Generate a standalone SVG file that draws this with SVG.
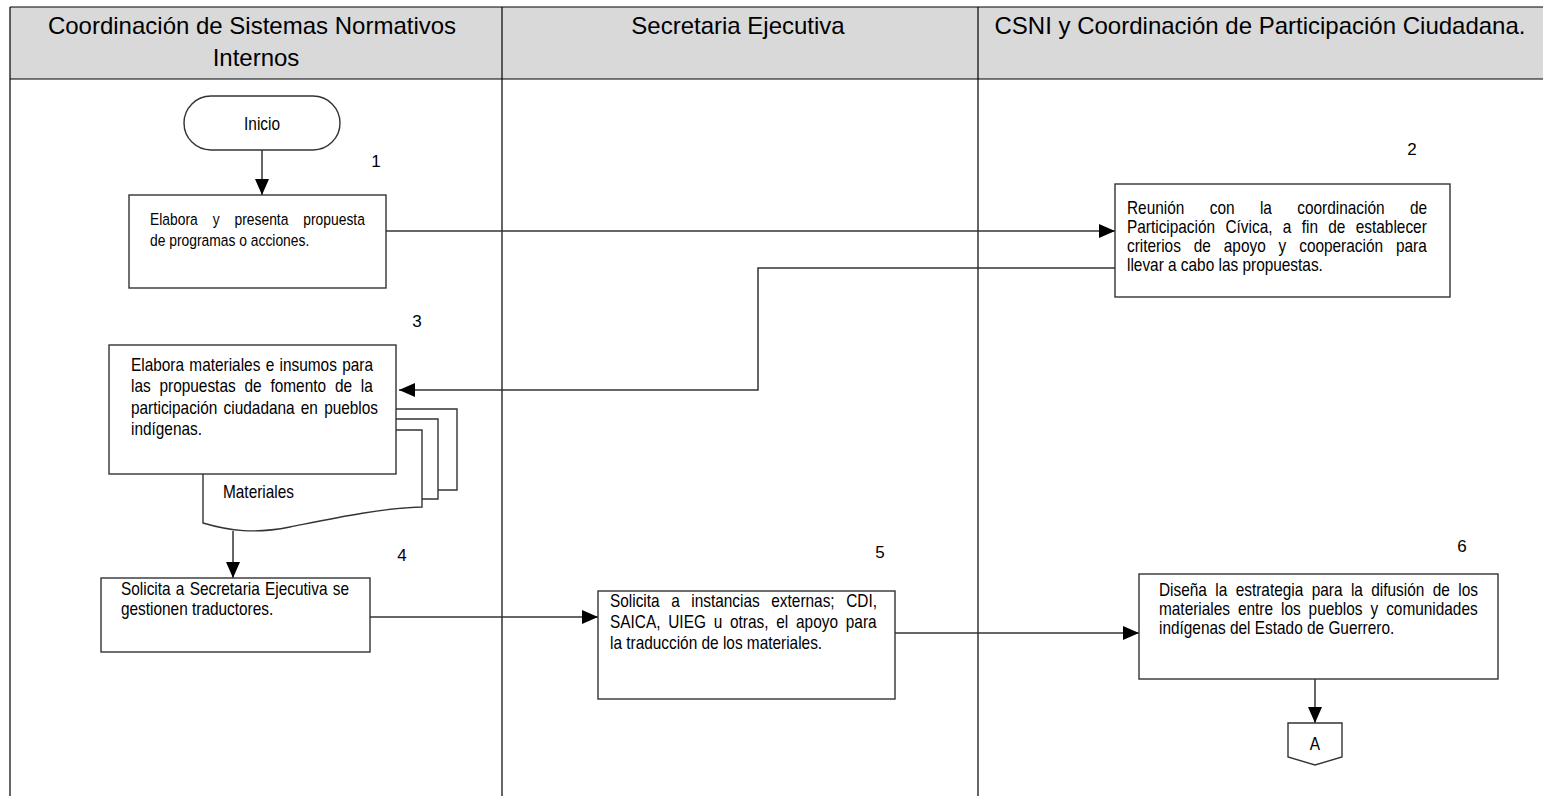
<svg xmlns="http://www.w3.org/2000/svg" width="1543" height="796" viewBox="0 0 1543 796">
<style>
  .lane { stroke: #000; stroke-width: 1.2; fill: none; }
  .hdr { fill: #d9d9d9; stroke: none; }
  .htxt { font-family: "Liberation Sans", Arial, sans-serif; font-size: 24px; fill: #000; text-anchor: middle; }
  .box { fill: #fff; stroke: #333; stroke-width: 1.4; }
  .txt { font-family: "Liberation Sans", Arial, sans-serif; font-size: 17.5px; fill: #000; }
  .t16 { font-size: 16.5px; }
  .mid { text-anchor: middle; }
  .num { font-family: "Liberation Sans", Arial, sans-serif; font-size: 17px; fill: #000; text-anchor: middle; }
  .conn { fill: none; stroke: #333; stroke-width: 1.5; }
  .arr { marker-end: url(#ah); }
</style>
<defs>
  <marker id="ah" markerUnits="userSpaceOnUse" markerWidth="16" markerHeight="14" refX="16" refY="7" orient="auto">
    <path d="M0,0 L16,7 L0,14 Z" fill="#000"/>
  </marker>
</defs>
<rect width="1543" height="796" fill="#fff"/>
<g id="lanes">
  <rect class="hdr" x="10" y="7" width="1533" height="72"/>
  <line class="lane" x1="10" y1="7" x2="1543" y2="7"/>
  <line class="lane" x1="10" y1="79" x2="1543" y2="79"/>
  <line class="lane" x1="10" y1="7" x2="10" y2="796"/>
  <line class="lane" x1="502" y1="7" x2="502" y2="796"/>
  <line class="lane" x1="978" y1="7" x2="978" y2="796"/>
  <text class="htxt" x="252" y="34">Coordinación de Sistemas Normativos</text>
  <text class="htxt" x="256" y="66">Internos</text>
  <text class="htxt" x="738" y="34">Secretaria Ejecutiva</text>
  <text class="htxt" x="1260" y="34">CSNI y Coordinación de Participación Ciudadana.</text>
</g>
<g id="connectors">
  <line class="conn arr" x1="262" y1="150" x2="262" y2="195"/>
  <line class="conn arr" x1="386" y1="231" x2="1115" y2="231"/>
  <polyline class="conn arr" points="1115,268 758,268 758,390 399,390"/>
  <line class="conn arr" x1="233" y1="531" x2="233" y2="578"/>
  <line class="conn arr" x1="370" y1="617" x2="598" y2="617"/>
  <line class="conn arr" x1="895" y1="633" x2="1139" y2="633"/>
  <line class="conn arr" x1="1315" y1="679" x2="1315" y2="723"/>
</g>
<g id="inicio">
  <rect class="box" x="184" y="96" width="156" height="54" rx="27" ry="27"/>
  <text class="txt mid" transform="translate(262 0) scale(0.88 1)" x="0" y="130">Inicio</text>
</g>
<g id="step1">
  <text class="num" x="376" y="167">1</text>
  <rect class="box" x="129" y="195" width="257" height="93"/>
  <g transform="translate(150 0) scale(0.84 1)">
    <text class="txt t16" x="0" y="225" word-spacing="13.2">Elabora y presenta propuesta</text>
    <text class="txt t16" x="0" y="246">de programas o acciones.</text>
  </g>
</g>
<g id="step2">
  <text class="num" x="1412" y="155">2</text>
  <rect class="box" x="1115" y="184" width="335" height="113"/>
  <g transform="translate(1127 0) scale(0.88 1)">
    <text class="txt" x="0" y="214" word-spacing="24">Reunión con la coordinación de</text>
    <text class="txt" x="0" y="233" word-spacing="6.9">Participación Cívica, a fin de establecer</text>
    <text class="txt" x="0" y="252" word-spacing="9.8">criterios de apoyo y cooperación para</text>
    <text class="txt" x="0" y="271">llevar a cabo las propuestas.</text>
  </g>
</g>
<g id="step3">
  <text class="num" x="417" y="327">3</text>
  <path class="box" d="M250,409 H457 V490 H250 Z"/>
  <path class="box" d="M230,419 H438 V499 H230 Z"/>
  <path class="box" d="M203,430 H422 V507 C380,508 330,519 290,527 C255,534 230,531 203,523 Z"/>
  <text class="txt" transform="translate(223 0) scale(0.88 1)" x="0" y="498">Materiales</text>
  <rect class="box" x="109" y="345" width="287" height="129"/>
  <g transform="translate(131 0) scale(0.88 1)">
    <text class="txt" x="0" y="371" word-spacing="1.2">Elabora materiales e insumos para</text>
    <text class="txt" x="0" y="392" word-spacing="5.2">las propuestas de fomento de la</text>
    <text class="txt" x="0" y="414" word-spacing="2.2">participación ciudadana en pueblos</text>
    <text class="txt" x="0" y="435">indígenas.</text>
  </g>
</g>
<g id="step4">
  <text class="num" x="402" y="561">4</text>
  <rect class="box" x="101" y="578" width="269" height="74"/>
  <g transform="translate(121 0) scale(0.88 1)">
    <text class="txt" x="0" y="595" word-spacing="1.1">Solicita a Secretaria Ejecutiva se</text>
    <text class="txt" x="0" y="615">gestionen traductores.</text>
  </g>
</g>
<g id="step5">
  <text class="num" x="880" y="558">5</text>
  <rect class="box" x="598" y="591" width="297" height="108"/>
  <g transform="translate(610 0) scale(0.88 1)">
    <text class="txt" x="0" y="607" word-spacing="8.3">Solicita a instancias externas; CDI,</text>
    <text class="txt" x="0" y="628" word-spacing="4">SAICA, UIEG u otras, el apoyo para</text>
    <text class="txt" x="0" y="649">la traducción de los materiales.</text>
  </g>
</g>
<g id="step6">
  <text class="num" x="1462" y="552">6</text>
  <rect class="box" x="1139" y="574" width="359" height="105"/>
  <g transform="translate(1159 0) scale(0.88 1)">
    <text class="txt" x="0" y="596" word-spacing="4.7">Diseña la estrategia para la difusión de los</text>
    <text class="txt" x="0" y="615" word-spacing="4.2">materiales entre los pueblos y comunidades</text>
    <text class="txt" x="0" y="634">indígenas del Estado de Guerrero.</text>
  </g>
</g>
<g id="connectorA">
  <path class="box" d="M1288,723 H1342 V757 L1315,765 L1288,757 Z"/>
  <text class="txt mid" transform="translate(1315 0) scale(0.88 1)" x="0" y="750">A</text>
</g>
</svg>
